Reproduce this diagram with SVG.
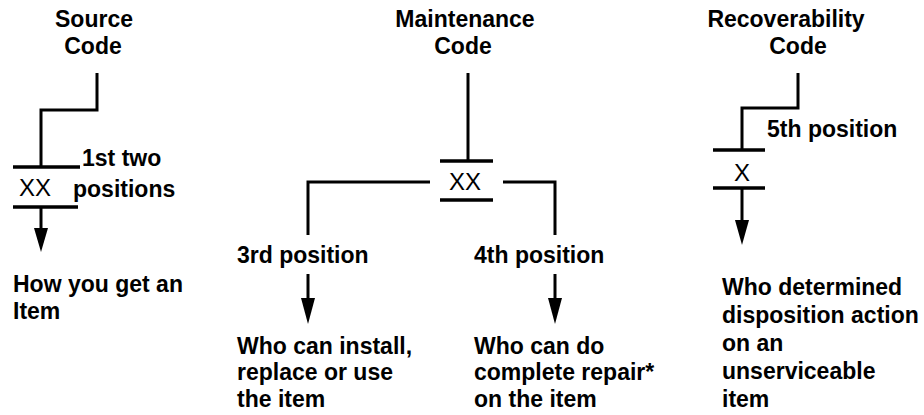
<svg xmlns="http://www.w3.org/2000/svg" width="924" height="415" viewBox="0 0 924 415">
<defs>
<style>
.t{font-family:"Liberation Sans",Arial,Helvetica,sans-serif;font-weight:bold;font-size:23px;fill:#000}
.c{text-anchor:middle}
.x{font-family:"Liberation Sans",Arial,Helvetica,sans-serif;font-weight:normal;font-size:24px;fill:#000}
.ln{stroke:#000;stroke-width:3;fill:none}
.bar{stroke:#000;stroke-width:3.5}
.ah{fill:#000}
</style>
</defs>
<rect width="924" height="415" fill="#fff"/>
<g id="connectors">
<path class="ln" d="M97,73 V110 H41 V167"/>
<path class="ln" d="M41,207 V230"/>
<path class="ah" d="M34,228 H48 L41,252 Z"/>
<path class="ln" d="M468,73 V160"/>
<path class="ln" d="M430,182 H308 V235"/>
<path class="ln" d="M503,182 H555 V235"/>
<path class="ln" d="M308,274 V300"/>
<path class="ah" d="M301,298 H315 L308,324 Z"/>
<path class="ln" d="M555,274 V300"/>
<path class="ah" d="M548,298 H562 L555,324 Z"/>
<path class="ln" d="M798,73 V108 H742 V150"/>
<path class="ln" d="M742,188 V222"/>
<path class="ah" d="M735,220 H749 L742,245 Z"/>
</g>
<g id="source">
<text class="t c" x="94" y="27">Source</text>
<text class="t c" x="93" y="54">Code</text>
<line class="bar" x1="13" y1="167" x2="80" y2="167"/>
<text class="x" x="19" y="196">XX</text>
<line class="bar" x1="13" y1="207" x2="78" y2="207"/>
<text class="t" x="82" y="166">1st two</text>
<text class="t" x="73" y="197">positions</text>
<text class="t" x="13" y="292">How you get an</text>
<text class="t" x="13" y="319">Item</text>
</g>
<g id="maintenance">
<text class="t c" x="465" y="27">Maintenance</text>
<text class="t c" x="463" y="54">Code</text>
<line class="bar" x1="440" y1="161" x2="493" y2="161"/>
<text class="x" x="449" y="190">XX</text>
<line class="bar" x1="440" y1="200" x2="493" y2="200"/>
<text class="t" x="237" y="263">3rd position</text>
<text class="t" x="474" y="263">4th position</text>
<text class="t" x="237" y="354">Who can install,</text>
<text class="t" x="237" y="380">replace or use</text>
<text class="t" x="237" y="407">the item</text>
<text class="t" x="474" y="354">Who can do</text>
<text class="t" x="474" y="380">complete repair*</text>
<text class="t" x="474" y="407">on the item</text>
</g>
<g id="recoverability">
<text class="t c" x="786" y="27">Recoverability</text>
<text class="t c" x="798" y="54">Code</text>
<text class="t" x="767" y="137">5th position</text>
<line class="bar" x1="713" y1="150" x2="765" y2="150"/>
<text class="x" x="734" y="181">X</text>
<line class="bar" x1="713" y1="188" x2="765" y2="188"/>
<text class="t" x="722" y="295">Who determined</text>
<text class="t" x="722" y="323">disposition action</text>
<text class="t" x="722" y="351">on an</text>
<text class="t" x="722" y="379">unserviceable</text>
<text class="t" x="722" y="407">item</text>
</g>
</svg>
